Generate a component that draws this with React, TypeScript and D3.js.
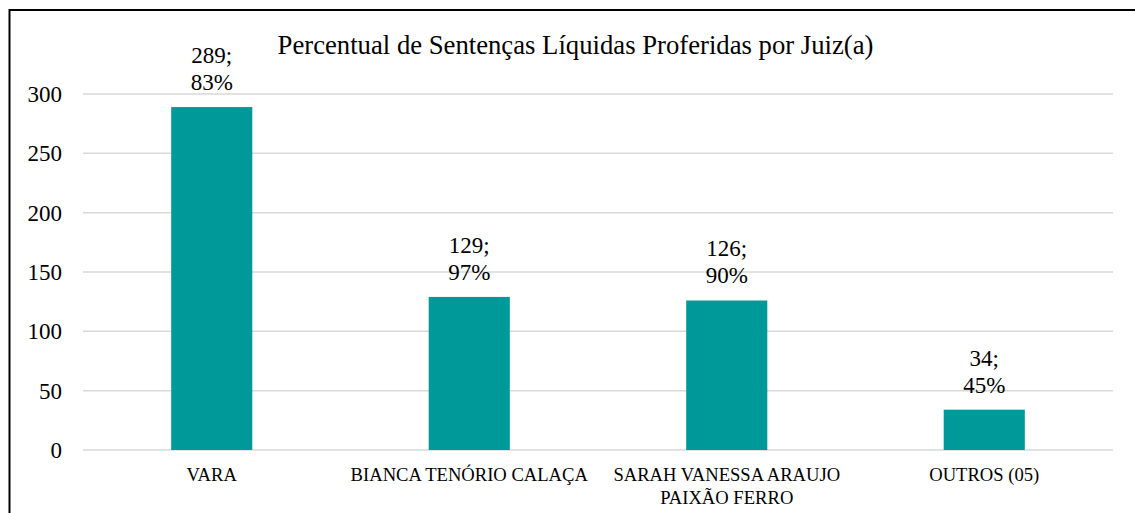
import { useEffect, useRef } from "react";
import * as d3 from "d3";

const categories = ["VARA", "BIANCA TENÓRIO CALAÇA", "SARAH VANESSA ARAUJO PAIXÃO FERRO", "OUTROS (05)"];
const categoryLines = [["VARA"], ["BIANCA TENÓRIO CALAÇA"], ["SARAH VANESSA ARAUJO", "PAIXÃO FERRO"], ["OUTROS (05)"]];
const totals = [289, 129, 126, 34];
const percents = ["83%", "97%", "90%", "45%"];
const yTicks = [0, 50, 100, 150, 200, 250, 300];
const title = "Percentual de Sentenças Líquidas Proferidas por Juiz(a)";

const FONT = '"Liberation Serif"';

export default function App() {
  const svgRef = useRef<SVGSVGElement | null>(null);

  useEffect(() => {
    const width = 1135;
    const height = 513;
    const svg = d3.select(svgRef.current);
    svg.selectAll("*").remove();
    svg.attr("width", width).attr("height", height).attr("viewBox", `0 0 ${width} ${height}`);

    svg.append("rect")
      .attr("x", 0).attr("y", 0).attr("width", width).attr("height", height)
      .attr("fill", "#fff");

    // frame, right and bottom edges fall outside the view
    svg.append("rect")
      .attr("x", 9.5).attr("y", 10)
      .attr("width", 1133).attr("height", 520)
      .attr("fill", "none").attr("stroke", "#000").attr("stroke-width", 2);

    const x = d3.scaleBand<string>().domain(categories).range([83, 1113]).padding(0);
    const y = d3.scaleLinear().domain([0, 300]).range([450, 94]);
    const barWidth = x.bandwidth() * 0.315;
    const cx = (i: number) => (x(categories[i]) ?? 0) + x.bandwidth() / 2;

    // gridlines
    svg.append("g")
      .selectAll("line")
      .data(yTicks)
      .join("line")
      .attr("x1", 83).attr("x2", 1113)
      .attr("y1", (d) => y(d)).attr("y2", (d) => y(d))
      .attr("stroke", "#d9d9d9").attr("stroke-width", 1.5);

    // y tick labels
    svg.append("g")
      .selectAll("text")
      .data(yTicks)
      .join("text")
      .attr("x", 62)
      .attr("y", (d) => y(d) + 8)
      .attr("text-anchor", "end")
      .style("font-family", FONT)
      .attr("font-size", 23)
      .attr("fill", "#000")
      .text((d) => d);

    // bars
    svg.append("g")
      .selectAll("rect")
      .data(totals)
      .join("rect")
      .attr("x", (_, i) => cx(i) - barWidth / 2)
      .attr("y", (d) => y(d))
      .attr("width", barWidth)
      .attr("height", (d) => y(0) - y(d))
      .attr("fill", "#009999");

    // data labels
    const labels = svg.append("g")
      .selectAll("text")
      .data(totals)
      .join("text")
      .attr("text-anchor", "middle")
      .style("font-family", FONT)
      .attr("font-size", 23)
      .attr("fill", "#000");
    labels.append("tspan")
      .attr("x", (_, i) => cx(i))
      .attr("y", (d) => y(d) - 44)
      .text((d) => `${d};`);
    labels.append("tspan")
      .attr("x", (_, i) => cx(i))
      .attr("y", (d) => y(d) - 17)
      .text((_, i) => percents[i]);

    // category labels
    const cats = svg.append("g")
      .selectAll("text")
      .data(categoryLines)
      .join("text")
      .attr("text-anchor", "middle")
      .style("font-family", FONT)
      .attr("font-size", 18.6)
      .attr("fill", "#000");
    cats.each(function (lines, i) {
      d3.select(this)
        .selectAll("tspan")
        .data(lines)
        .join("tspan")
        .attr("x", cx(i))
        .attr("y", (_, j) => 481 + j * 23)
        .text((l) => l);
    });

    svg.append("text")
      .attr("x", 575.5)
      .attr("y", 54)
      .attr("text-anchor", "middle")
      .style("font-family", FONT)
      .attr("font-size", 26.7)
      .attr("fill", "#000")
      .text(title);
  }, []);

  return (
    <div style={{ position: "absolute", left: 0, top: 0 }}>
      <svg ref={svgRef} style={{ display: "block" }} />
    </div>
  );
}
